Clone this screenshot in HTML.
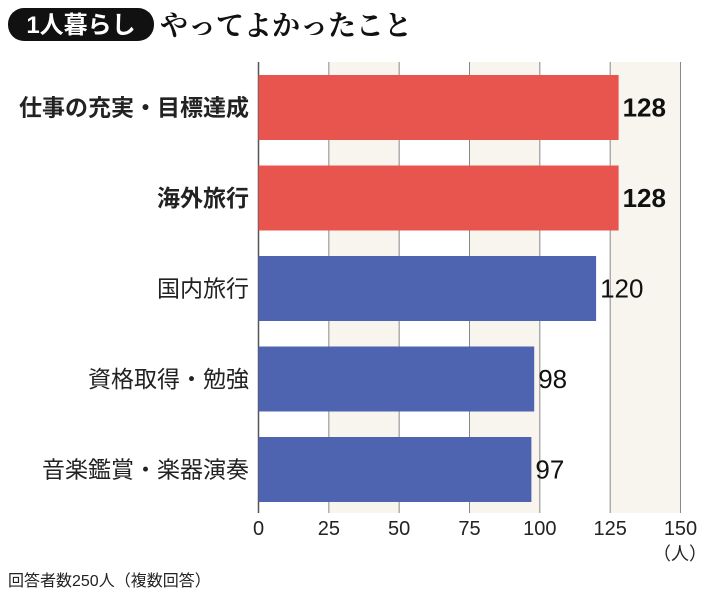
<!DOCTYPE html>
<html><head><meta charset="utf-8"><style>
body{margin:0;background:#fff;}
svg{display:block;font-family:"Liberation Sans","Noto Sans CJK JP",sans-serif;}
</style></head><body>
<svg width="710" height="601">
<g>
<rect x="8" y="8" width="146" height="33" rx="16" fill="#111"/>
<text x="81" y="33" font-size="24" font-weight="bold" fill="#fff" text-anchor="middle">1人暮らし</text>
<text x="160" y="35" font-size="28" font-family="'Noto Serif CJK SC','Noto Sans CJK JP',serif" font-weight="bold" fill="#111">やってよかったこと</text>
</g>
<g id="bands"></g><g id="grid"></g><g id="bars"></g><g id="xt"></g>
<text x="680" y="560" font-size="18" text-anchor="middle" fill="#222">（人）</text>
<text x="8" y="586" font-size="16" fill="#222">回答者数250人（複数回答）</text>
</svg>
<script>
const categories=["仕事の充実・目標達成","海外旅行","国内旅行","資格取得・勉強","音楽鑑賞・楽器演奏"];
const values=[128,128,120,98,97];
const highlight=[true,true,false,false,false];
const ticks=[0,25,50,75,100,125,150];
const NS="http://www.w3.org/2000/svg";
const x0=258.5,x1=680.5,vmax=150,gTop=62,gBot=513;
const X=v=>x0+(x1-x0)*v/vmax;
const Y=i=>75+i*90.5;
function mk(t,a,p){const e=document.createElementNS(NS,t);for(const k in a)e.setAttribute(k,a[k]);document.getElementById(p).appendChild(e);return e;}
for(let i=0;i+1<ticks.length;i++){if(i%2===1){const r=mk('rect',{x:X(ticks[i]),y:gTop,width:X(ticks[i+1])-X(ticks[i]),height:gBot-gTop,fill:'#f7f5ee'},'bands');

}}
ticks.forEach((t,i)=>{const l=mk('line',{x1:X(t),x2:X(t),y1:gTop,y2:gBot,stroke:i===0?'#555':'#888','stroke-width':i===0?1.5:1},'grid');


const tx=mk('text',{x:X(t),y:535,'font-size':20,'text-anchor':'middle',fill:'#222'},'xt');tx.textContent=t;

});
categories.forEach((c,i)=>{const y=Y(i),h=65;
const b=mk('rect',{x:x0,y:y,width:X(values[i])-x0,height:h,fill:highlight[i]?'#e8554f':'#4f64b0'},'bars');


const v=mk('text',{x:X(values[i])+4,y:y+h/2+9,'font-size':26,fill:'#111','font-weight':highlight[i]?'bold':'normal'},'bars');v.textContent=values[i];


const l=mk('text',{x:249,y:y+h/2+8,'font-size':23,'text-anchor':'end',fill:'#222','font-weight':highlight[i]?'bold':'normal'},'bars');l.textContent=c;

});
</script>
</body></html>
